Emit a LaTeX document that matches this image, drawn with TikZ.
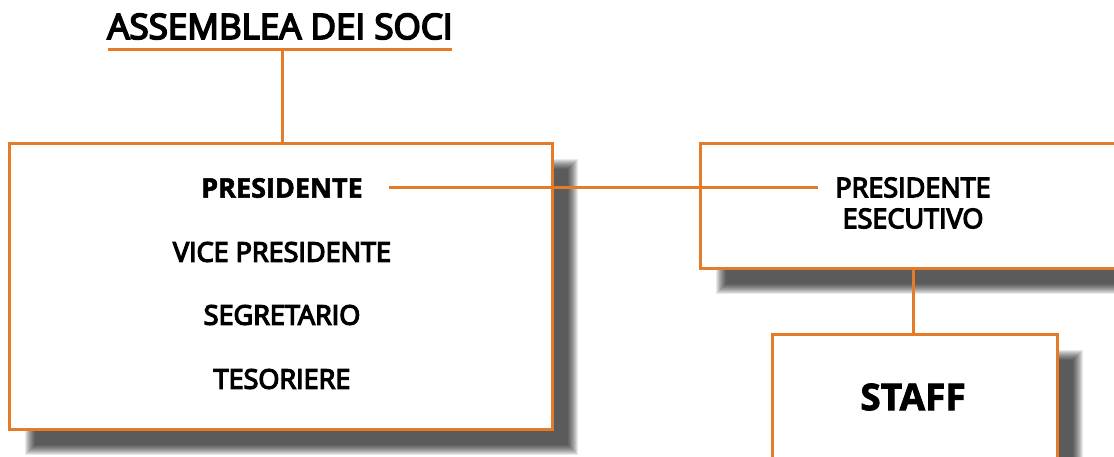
\documentclass[tikz,border=0pt]{standalone}
\usepackage{fontspec}
\setmainfont{Open Sans}
\newfontfamily\medfont{Open Sans}[FakeBold=5]
\newfontfamily\hvfont{Open Sans}[BoldFeatures={FakeBold=2}]
\definecolor{org}{RGB}{228,123,41}
\newcommand\softshadow[4]{%
  \foreach \i in {0,...,10} {
    \fill[black, opacity=0.085] ({#1+22-5+\i},{#2+22-5+\i}) rectangle ({#3+22+5-\i},{#4+22+5-\i});
  }}
\begin{document}
\begin{tikzpicture}[x=1pt,y=-1pt,
  box/.style={draw=org, line width=3pt, fill=white, inner sep=0pt, anchor=north west},
  conn/.style={draw=org, line width=3pt},
  lbl/.style={inner sep=0pt, font=\medfont\fontsize{27}{31}\selectfont},
  blbl/.style={inner sep=0pt, font=\hvfont\fontsize{27}{31}\selectfont\bfseries}]
\useasboundingbox (0,0) rectangle (1114,457);
\fill[white] (0,0) rectangle (1114,457);
% shadows
\softshadow{8}{142}{551}{428}
\softshadow{699}{142}{1180}{267}
\softshadow{771}{333}{1056}{520}
% title
\node[inner sep=0pt, anchor=base, font=\medfont\fontsize{35}{40}\selectfont] (title) at (280,39) {ASSEMBLEA DEI SOCI};
\coordinate (ul) at (108,49.5);
\coordinate (ur) at (452,49.5);
\coordinate (um) at (282,49.5);
\draw[conn] (ul) -- (ur);
% boxes
\node[box, minimum width=543pt, minimum height=286pt] (cons) at (8,142) {};
\node[box, minimum width=480pt, minimum height=125pt] (exec) at (699,142) {};
\node[box, minimum width=285pt, minimum height=180pt] (staff) at (771,333) {};
% texts
\node[blbl] (pres) at (282,188) {PRESIDENTE};
\node[lbl] (vice) at (282,252) {VICE PRESIDENTE};
\node[lbl] (segr) at (282,315) {SEGRETARIO};
\node[lbl] (teso) at (282,379) {TESORIERE};
\node[lbl, align=center] (pe) at (913,203) {PRESIDENTE\\ESECUTIVO};
\node[inner sep=0pt, font=\hvfont\fontsize{37}{42}\selectfont\bfseries] (st) at (913,397) {STAFF};
% connectors
\draw[conn] (um) -- (um |- cons.north);
\draw[conn, shorten <=26pt] (pres.east) -- (818,0 |- pres.east) coordinate (pl);
\draw[conn] (exec.south -| st) -- (staff.north -| st);
\end{tikzpicture}
\end{document}
